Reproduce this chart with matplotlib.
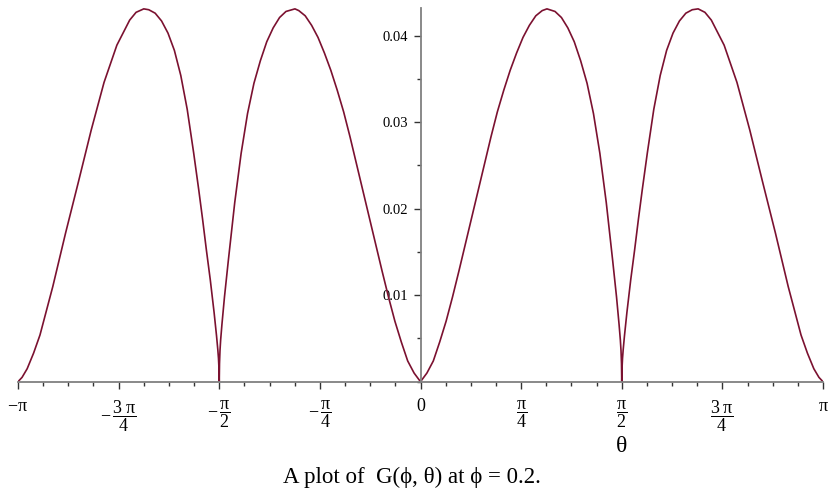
import numpy as np
import matplotlib.pyplot as plt
from matplotlib.ticker import FixedLocator, MultipleLocator

plt.rcParams['mathtext.fontset'] = 'custom'
plt.rcParams['mathtext.rm'] = 'Liberation Serif'
plt.rcParams['mathtext.it'] = 'Liberation Serif'
plt.rcParams['font.family'] = ['Liberation Serif', 'DejaVu Serif']

# values: theta (rad) and G at phi = 0.2, lobe by lobe
theta_a = [-3.1416, -3.11, -3.07, -3.02, -2.97, -2.87, -2.77, -2.67, -2.57, -2.47,
           -2.37, -2.27, -2.22, -2.16, -2.121, -2.071, -2.021, -1.971, -1.921, -1.871,
           -1.821, -1.771, -1.731, -1.701, -1.671, -1.641, -1.611, -1.592, -1.582, -1.5768,
           -1.5728, -1.5708]
G_a = [0.0, 0.0005, 0.0015, 0.0033, 0.0054, 0.0110, 0.0172, 0.0231, 0.0291, 0.0346,
       0.0389, 0.0418, 0.0427, 0.0431, 0.0430, 0.0426, 0.0417, 0.0403, 0.0383, 0.0354,
       0.0315, 0.0265, 0.0222, 0.0188, 0.0152, 0.0118, 0.0080, 0.0053, 0.0037, 0.0027,
       0.0015, 0.0]

theta_b = [-1.5688, -1.565, -1.56, -1.55, -1.53, -1.50, -1.45, -1.40, -1.35, -1.30,
           -1.25, -1.20, -1.15, -1.10, -1.05, -0.98, -0.95, -0.90, -0.85, -0.80,
           -0.75, -0.70, -0.65, -0.60, -0.55, -0.50, -0.45, -0.40, -0.35, -0.30,
           -0.25, -0.20, -0.15, -0.10, -0.05, 0.0]
G_b = [0.0021, 0.0036, 0.0048, 0.0066, 0.0098, 0.0140, 0.0207, 0.0264, 0.0310, 0.0345,
       0.0371, 0.0393, 0.0409, 0.0421, 0.0428, 0.0431, 0.0429, 0.0423, 0.0412, 0.0398,
       0.0380, 0.0360, 0.0337, 0.0312, 0.0283, 0.0252, 0.0221, 0.0190, 0.0159, 0.0128,
       0.0098, 0.0070, 0.0046, 0.0024, 0.0010, 0.0]

theta_c = [0.05, 0.10, 0.15, 0.20, 0.25, 0.30, 0.35, 0.40, 0.45, 0.50,
           0.55, 0.60, 0.65, 0.70, 0.75, 0.80, 0.85, 0.90, 0.95, 0.987,
           1.05, 1.10, 1.15, 1.20, 1.25, 1.30, 1.35, 1.40, 1.45, 1.50,
           1.53, 1.55, 1.56, 1.565, 1.5688, 1.5708]
G_c = [0.0010, 0.0024, 0.0046, 0.0070, 0.0098, 0.0128, 0.0159, 0.0190, 0.0221, 0.0252,
       0.0283, 0.0312, 0.0337, 0.0360, 0.0380, 0.0398, 0.0412, 0.0423, 0.0429, 0.0431,
       0.0428, 0.0421, 0.0409, 0.0393, 0.0371, 0.0345, 0.0310, 0.0264, 0.0207, 0.0140,
       0.0098, 0.0066, 0.0048, 0.0036, 0.0021, 0.0]

theta_d = [1.5728, 1.5768, 1.582, 1.592, 1.611, 1.641, 1.671, 1.701, 1.731, 1.771,
           1.821, 1.871, 1.921, 1.971, 2.021, 2.071, 2.121, 2.167, 2.22, 2.27,
           2.37, 2.47, 2.57, 2.67, 2.77, 2.87, 2.97, 3.02, 3.07, 3.11, 3.1416]
G_d = [0.0015, 0.0027, 0.0037, 0.0053, 0.0080, 0.0118, 0.0152, 0.0188, 0.0222, 0.0265,
       0.0315, 0.0354, 0.0383, 0.0403, 0.0417, 0.0426, 0.0430, 0.0431, 0.0427, 0.0418,
       0.0389, 0.0346, 0.0291, 0.0231, 0.0172, 0.0110, 0.0054, 0.0033, 0.0015, 0.0005, 0.0]

xtick_pos = [-np.pi, -3*np.pi/4, -np.pi/2, -np.pi/4, 0, np.pi/4, np.pi/2, 3*np.pi/4, np.pi]
xtick_labels = [r'$-\pi$', r'$-\,\dfrac{3\;\pi}{4}$', r'$-\,\dfrac{\pi}{2}$', r'$-\,\dfrac{\pi}{4}$',
                '0', r'$\dfrac{\pi}{4}$', r'$\dfrac{\pi}{2}$', r'$\dfrac{3\;\pi}{4}$', r'$\pi$']
ytick_pos = [0.01, 0.02, 0.03, 0.04]
ytick_labels = ['0.01', '0.02', '0.03', '0.04']

theta = theta_a + theta_b + theta_c + theta_d
G = G_a + G_b + G_c + G_d

fig = plt.figure(figsize=(8.36, 4.98), dpi=100)
ax = fig.add_axes([18/836, 1 - 381.7/498, 805/836, 373.7/498])

ax.plot(theta, G, color='#7b1130', lw=1.2, solid_joinstyle='round')

ax.set_xlim(-np.pi, np.pi)
ax.set_ylim(0, 0.0432)

axis_col = '#808080'
for s in ['top', 'right']:
    ax.spines[s].set_visible(False)
ax.spines['left'].set_position(('data', 0))
ax.spines['left'].set_color(axis_col)
ax.spines['bottom'].set_color(axis_col)
ax.spines['left'].set_linewidth(1.3)
ax.spines['bottom'].set_linewidth(1.3)

ax.xaxis.set_major_locator(FixedLocator(xtick_pos))
ax.set_xticklabels(xtick_labels)
ax.xaxis.set_minor_locator(MultipleLocator(np.pi/16))
ax.yaxis.set_major_locator(FixedLocator(ytick_pos))
ax.set_yticklabels(ytick_labels)
ax.yaxis.set_minor_locator(MultipleLocator(0.005))

ax.tick_params(axis='both', which='major', length=5, width=1, color='#333333',
               direction='out')
ax.tick_params(axis='both', which='minor', length=3, width=1, color='#333333',
               direction='out')
ax.tick_params(axis='x', which='major', pad=7)
ax.tick_params(axis='y', which='major', pad=4, labelsize=10.5)

# fractions drawn bigger so their parts match the plain labels
for lab in ax.get_xticklabels():
    if 'frac' in lab.get_text():
        lab.set_fontsize(13)
    else:
        lab.set_fontsize(13)

fig.text(622/836, 1 - 447/498, 'θ', ha='center', va='center', fontsize=17)
fig.text(412/836, 1 - 477/498, 'A plot of  G(ϕ, θ) at ϕ = 0.2.', ha='center', va='center',
         fontsize=16.5, family=['Liberation Serif', 'DejaVu Serif'])

fig.savefig('out.png', dpi=100)
